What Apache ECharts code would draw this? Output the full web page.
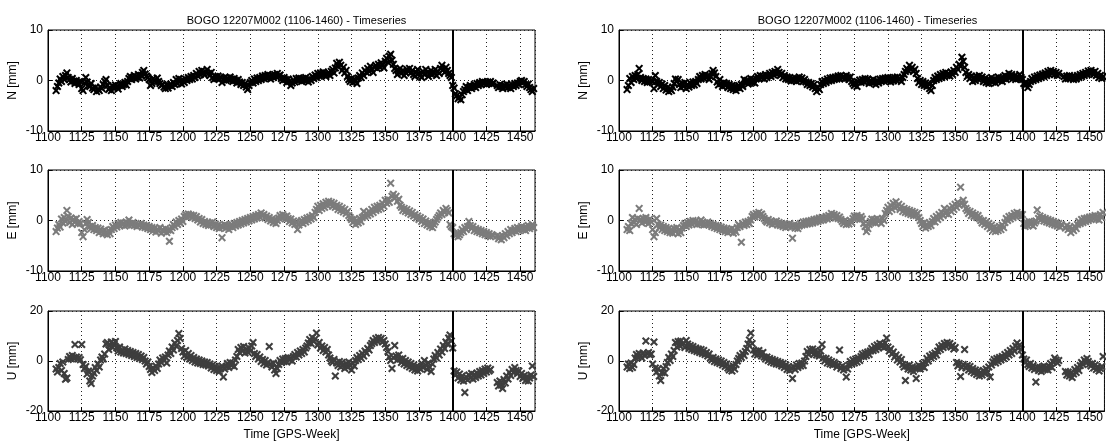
<!DOCTYPE html>
<html>
<head>
<meta charset="utf-8">
<script src="https://cdn.jsdelivr.net/npm/echarts@6/dist/echarts.min.js"></script>
<style>
html,body{margin:0;padding:0;background:#fff;}
#chart{width:1106px;height:448px;}
</style>
</head>
<body>
<div id="chart"></div>
<script>
// ---- DATA (weekly values, GPS weeks 1106..1460, mm) ----
const firstWeek = 1106;
const titleText = "BOGO 12207M002 (1106-1460) - Timeseries";
const xAxisTitle = "Time [GPS-Week]";
const componentNames = ["N [mm]", "E [mm]", "U [mm]"];
const yLimits = [[-10, 10], [-10, 10], [-20, 20]];
const breakWeek = 1400;

const leftN = [
-2.0,-1.2,-0.5,0.3,-0.2,0.8,0.2,1.0,1.5,0.6,
0.2,-0.3,0.4,-0.1,-0.6,0.0,-0.4,-0.8,-0.2,-1.6,
-2.0,-0.5,0.6,-0.3,-1.0,-1.2,-0.6,-1.5,-1.8,-1.4,
-2.2,-1.7,-2.0,-1.3,-1.6,-0.8,-0.2,0.2,-1.0,-1.8,
-1.4,-2.0,-1.1,-1.5,-0.9,-1.3,-1.7,-1.0,-0.6,-1.2,
-0.8,-0.4,-0.9,-0.2,0.4,0.8,0.2,0.6,1.0,0.3,
0.7,1.2,0.5,1.0,1.6,2.0,1.3,0.9,0.6,0.2,
-1.0,-0.6,0.4,0.0,-0.3,0.5,-0.2,-0.6,-1.0,-0.8,
-1.3,-1.6,-0.9,-1.5,-1.0,-0.7,-1.2,-0.4,-0.8,0.2,
-0.6,0.4,-0.2,-0.7,0.1,-0.4,0.3,0.0,0.6,0.2,
0.8,0.3,1.0,0.6,1.4,0.9,1.8,1.2,2.0,1.5,
1.1,1.7,2.2,1.4,1.0,1.6,0.6,0.2,0.8,0.4,
0.9,0.3,0.7,-0.4,0.2,0.6,0.0,0.5,0.1,0.7,
0.3,-0.2,0.4,0.0,-0.5,0.2,-0.3,-0.8,-0.4,-1.0,
-0.6,-1.3,-1.8,-1.0,-0.4,0.0,-0.5,0.3,-0.2,0.5,
0.0,0.6,0.2,0.9,0.4,1.0,0.5,1.2,0.8,0.3,
1.0,0.6,1.2,0.8,1.4,0.9,1.1,0.4,0.0,0.6,
0.2,-0.4,0.3,-0.2,-1.0,-0.5,0.1,-0.3,0.4,0.0,
0.5,0.2,-0.2,0.4,0.0,0.6,0.1,-0.3,0.3,0.0,
0.8,0.4,1.1,0.6,1.4,0.9,1.5,1.0,1.7,1.2,
0.8,1.3,1.6,1.0,1.8,2.2,1.5,2.5,3.4,2.8,
3.6,3.0,2.0,2.6,1.5,2.0,0.8,0.2,-0.2,0.4,
-0.4,0.3,0.0,-0.6,0.5,1.0,0.6,1.5,1.0,2.0,
1.6,2.4,1.8,2.8,2.2,1.6,2.6,3.0,2.4,3.2,
2.6,3.5,3.0,2.5,3.8,4.4,3.6,4.8,5.2,4.0,
3.2,2.4,2.0,1.2,1.8,2.4,1.4,2.0,1.0,1.6,
2.2,1.8,2.4,1.5,2.0,1.2,0.8,1.6,2.2,1.4,
1.0,0.6,1.8,1.2,2.2,1.6,0.8,1.4,2.0,1.2,
1.6,2.2,1.0,1.8,1.4,2.4,3.0,2.2,1.6,2.6,
2.0,1.4,1.0,0.6,-1.0,-1.5,-2.6,-3.0,-3.6,-3.2,
-3.8,-2.8,-2.2,-1.8,-1.2,-2.0,-1.4,-1.0,-1.6,-1.2,
-0.8,-1.4,-0.6,-1.0,-0.4,-0.8,-0.2,-0.6,-0.4,-0.8,
-0.3,-0.6,-0.2,-0.7,-0.5,null,null,-1.0,-1.4,-0.8,
-1.2,-1.6,-1.0,-1.3,-0.7,-1.4,-1.0,-1.6,-0.9,-1.2,
-0.6,-1.0,-0.5,-0.8,-0.2,0.0,-0.4,-0.2,-0.8,-1.2,
-0.7,-1.4,-1.8,-2.2,-1.6
];

const leftE = [
-2.2,-1.5,-0.8,-1.3,0.3,-0.5,0.6,-0.2,2.0,0.8,
-0.4,0.5,-0.8,0.2,-0.3,0.4,-0.6,-0.2,-0.6,-2.4,
-3.2,-1.8,-0.6,0.2,-0.4,-1.2,-1.6,-1.0,-1.8,-1.4,
-2.0,-1.5,-2.4,-1.7,-2.2,-2.6,-1.9,-2.5,-2.8,-2.0,
-2.6,-1.8,-1.2,-1.6,-0.9,-1.3,-0.6,-1.0,-0.4,-0.9,
-0.5,-1.1,-0.3,-0.8,0.1,-0.6,-0.9,-0.4,-1.0,-0.7,
-1.2,-0.8,-1.0,-0.6,-1.3,-0.9,-1.4,-1.0,-1.6,-1.2,
-1.8,-1.4,-2.0,-1.5,-2.3,-1.7,-2.1,-1.4,-2.5,-1.8,
-2.2,-1.6,-2.4,-1.9,-4.1,-2.0,-1.4,-0.8,-1.2,-0.3,
-0.8,0.0,-0.5,0.3,-0.2,0.8,1.2,0.7,1.3,0.9,
1.1,0.6,1.0,0.4,0.8,0.1,0.4,-0.3,0.2,-0.6,
-0.2,-0.8,-0.4,-1.0,-0.5,-0.9,-0.3,-1.2,-0.7,-1.4,
-0.9,-1.6,-1.1,-3.4,-1.3,-0.8,-1.5,-1.0,-1.8,-1.2,
-0.8,-1.4,-0.6,-1.1,-0.4,-0.9,-0.2,-0.7,0.0,-0.5,
0.2,-0.3,0.4,-0.1,0.6,0.1,0.8,0.3,1.0,0.5,
1.2,0.7,1.5,0.9,1.2,0.5,0.9,0.2,0.6,-0.1,
0.3,-0.4,0.1,-0.6,0.0,0.5,1.0,0.6,1.2,0.8,
0.3,0.9,0.4,-0.2,0.3,-0.5,-0.1,-0.8,-0.3,-1.8,
-0.9,-0.4,0.0,-0.6,0.2,-0.3,0.5,0.0,0.7,0.3,
1.0,0.6,1.6,2.2,2.8,2.0,3.0,2.4,3.3,2.6,
3.6,3.0,3.8,3.2,3.6,2.8,3.4,2.6,3.0,2.2,
2.8,2.0,2.5,1.7,2.2,1.4,1.8,1.0,0.6,0.2,
-0.4,0.3,-0.8,0.0,-0.5,0.4,-0.2,0.6,1.8,0.8,
1.4,1.0,1.8,1.3,2.2,1.6,2.6,2.0,2.8,2.2,
3.0,2.4,3.4,2.8,4.0,3.4,4.2,3.6,7.4,4.8,
5.2,4.4,4.8,3.8,4.2,3.0,2.6,2.0,2.4,1.8,
2.2,1.5,1.9,1.2,1.6,0.9,1.2,0.5,0.9,0.2,
0.6,-0.2,0.3,-0.6,-0.1,-0.9,-0.4,-1.2,-0.6,-1.4,
-0.8,-0.3,0.2,0.6,1.0,1.5,1.2,2.0,1.6,2.4,
2.0,1.5,-0.8,-1.2,-1.4,-2.6,-3.0,-2.6,-3.2,-2.8,
-2.4,-1.8,-2.2,-1.4,-1.8,-1.2,-0.2,-1.0,-1.6,-1.2,
-2.0,-1.6,-2.2,-1.8,-2.4,-2.0,-2.6,-2.2,-2.8,-2.4,
-3.0,-2.6,-3.2,-2.8,-3.0,null,null,-3.0,-3.6,-3.2,
-3.8,-3.0,-3.4,-2.6,-3.0,-2.2,-2.6,-1.8,-2.4,-2.0,
-1.6,-2.2,-1.4,-2.0,-1.6,-1.2,-1.8,-1.4,-2.0,-1.5,
-1.0,-1.6,-1.2,-0.8,-1.4
];

const leftU = [
-3.2,-4.4,-2.6,-1.0,-3.8,-0.4,-5.0,-7.3,-6.8,0.6,
1.8,0.9,2.2,1.2,6.6,1.6,0.8,1.4,0.5,6.6,
-1.4,-3.0,-2.2,-5.2,-4.0,-8.0,-9.0,-6.0,-4.8,-2.6,
-3.8,-1.2,-2.4,0.4,1.6,0.8,2.8,6.8,7.4,4.6,
6.2,7.6,5.4,6.8,7.8,5.2,4.0,5.6,3.6,4.4,
3.2,4.8,3.0,4.2,2.6,3.8,2.2,3.4,1.8,3.0,
1.4,2.6,1.0,2.0,0.6,1.4,0.0,-1.2,-0.4,-2.2,
-3.4,-4.6,-2.8,-3.8,-2.0,-3.0,-1.2,0.4,-0.6,1.2,
0.2,1.6,-0.8,2.4,4.0,3.0,5.6,4.4,7.2,6.0,
8.2,11.0,9.0,5.0,3.6,2.0,4.2,1.4,3.0,0.8,
2.2,0.2,1.4,-0.4,0.8,-0.8,0.4,-1.0,0.0,-1.4,
-0.4,-1.6,-0.6,-2.0,-1.2,-2.8,-1.6,-3.4,-2.2,-3.8,
-2.8,-4.2,-3.0,-2.0,-6.4,-3.2,-2.2,-1.0,-2.6,-0.6,
-1.8,-0.8,-2.2,0.4,1.8,4.6,3.4,5.4,4.0,5.8,
3.2,4.8,3.6,5.2,4.0,6.0,7.4,3.0,1.8,2.6,
0.8,1.6,-0.2,0.6,-1.0,0.2,-1.6,-0.6,5.8,-1.2,
-2.4,-0.8,-3.6,-5.0,-3.0,-1.4,0.2,-0.6,0.8,-0.2,
1.0,-0.4,1.4,0.4,1.2,0.0,1.8,2.6,1.6,3.4,
2.4,4.0,3.0,4.6,3.6,5.2,6.0,7.2,8.6,7.0,
9.4,7.8,8.8,11.2,6.4,7.4,5.2,6.0,4.2,5.4,
3.6,4.6,2.4,1.2,0.0,-0.6,0.6,-6.0,-0.8,-1.8,
-0.2,-2.4,-0.6,-1.6,-3.0,-1.0,-2.4,-0.4,-1.8,-3.6,
-0.8,-2.0,0.2,1.4,0.6,2.2,1.2,3.0,2.0,4.0,
3.2,5.0,4.4,6.2,7.0,8.2,7.4,9.0,8.0,9.4,
8.4,9.0,7.6,8.2,6.8,5.4,3.8,1.6,0.2,-3.0,
1.4,6.2,2.0,0.4,2.4,0.8,-0.6,1.0,-1.2,0.2,
-1.8,-0.4,-2.4,-1.0,-3.0,-1.6,-3.6,-2.2,-4.0,-2.6,
-3.2,-1.0,-2.6,0.2,-1.6,-3.4,-0.8,-2.4,-4.2,-1.2,
0.8,2.2,1.2,3.4,2.4,4.8,3.6,6.2,5.0,7.6,
6.8,9.2,10.4,8.0,5.2,-4.0,-5.6,-4.4,-6.8,-5.2,
-7.6,-6.0,-8.0,-12.6,-6.4,-7.6,-5.6,-6.8,-5.0,-7.2,
-5.4,-6.6,-4.8,-6.0,-4.2,-5.6,-3.8,-5.0,-3.2,-4.4,
-2.8,-4.0,-3.4,null,null,null,null,-8.6,-10.0,-8.0,
-9.6,-11.0,-7.4,-8.8,-6.0,-7.2,-4.6,-5.8,-3.4,-4.6,
-2.6,-3.8,-5.0,-4.0,-6.2,-5.0,-7.0,-5.8,-7.8,-6.4,
-8.0,-6.8,-5.6,-2.0,-6.2
];

const rightN = [
-1.8,-1.0,0.4,-0.4,0.8,0.2,1.0,0.4,1.2,2.4,
0.6,0.0,0.4,-0.2,0.3,-0.4,0.2,-0.3,0.1,-0.2,
-1.6,1.0,-0.2,-0.8,-0.4,-1.2,-0.7,-1.6,-1.0,-1.9,
-1.4,-2.2,-1.6,-2.0,-1.3,-0.6,0.3,-0.2,0.2,-0.8,
-1.4,-0.6,-1.2,-0.4,-1.6,-0.8,-1.3,-0.5,-1.0,-0.3,
-0.9,-0.2,-0.6,0.2,0.8,0.3,1.0,0.5,1.2,0.6,
0.9,0.2,0.8,1.4,2.0,1.5,0.8,-0.3,-0.9,0.2,
-0.6,-1.2,-0.4,-1.0,-0.6,-1.4,-0.8,-1.6,-1.0,-1.8,
-1.2,-2.0,-1.4,-1.0,-1.6,-0.8,-1.2,0.2,-0.4,0.0,
-0.7,-0.2,0.4,-0.4,0.2,-0.5,0.3,0.8,0.4,1.0,
0.5,0.9,0.3,1.2,0.6,1.0,1.4,0.8,1.6,1.1,
1.8,1.3,2.2,1.6,1.0,1.4,0.6,1.0,0.3,0.7,
0.2,0.6,-0.1,0.4,0.0,0.5,-0.2,0.3,0.7,0.1,
0.5,-0.2,0.2,-0.3,-0.8,-0.4,-1.0,-0.6,-1.3,-0.8,
-1.6,-2.2,-1.4,-1.8,-0.8,-0.2,-0.6,0.0,-0.4,0.3,
-0.1,0.5,0.0,0.6,0.2,0.7,0.3,0.9,0.4,1.0,
0.5,0.8,0.3,1.0,0.6,0.2,0.7,-0.2,-0.6,-1.0,
-0.5,-1.2,-0.3,0.1,-0.4,0.2,-0.2,0.4,-0.1,0.3,
-0.6,0.0,-0.4,0.2,-0.3,-0.8,0.0,-0.5,0.3,-0.2,
0.4,-0.1,0.5,0.0,0.6,0.2,-0.3,0.4,-0.1,0.6,
0.1,0.7,0.2,0.4,-0.2,0.6,1.2,1.8,2.4,2.0,
3.0,2.2,2.6,1.8,2.2,1.4,0.4,-0.4,0.0,-0.8,
-0.2,-1.0,-0.5,-1.2,-0.6,-1.6,-2.0,-1.0,0.0,0.6,
0.2,0.9,0.4,1.2,0.6,1.4,0.8,1.6,1.0,1.4,
0.9,1.7,1.2,2.0,1.6,2.6,2.2,3.2,2.8,4.6,
3.8,2.6,1.6,0.8,1.2,0.4,0.9,-0.2,0.6,0.0,
0.8,0.3,1.0,0.4,0.7,-0.2,0.4,-0.4,0.2,-0.6,
0.0,0.6,-0.3,0.3,-0.5,0.1,0.7,0.0,0.5,-0.2,
0.4,1.0,0.2,0.8,1.4,0.6,1.2,0.4,0.9,0.2,
0.8,0.4,1.2,0.6,0.2,-0.6,-1.0,-0.4,-1.4,-0.8,
-0.2,0.4,0.0,0.7,0.2,0.9,0.4,1.1,0.6,1.3,
0.8,1.5,1.0,1.8,1.2,2.0,1.4,1.8,1.2,1.6,
1.0,1.4,null,null,null,0.8,0.3,0.9,0.4,1.0,
0.5,0.8,0.2,0.7,0.3,1.0,0.6,1.2,0.8,1.4,
1.0,1.6,1.2,1.9,1.4,2.0,1.6,1.2,1.8,1.0,
1.4,0.6,1.0,0.4,0.8
];

const rightE = [
-1.8,-1.2,-2.0,-0.6,0.6,-0.4,0.2,-0.8,0.4,2.4,
0.2,-0.5,0.4,-0.2,0.6,0.0,-0.6,0.3,-0.3,-1.8,
-3.2,-2.4,0.4,-0.8,-1.4,-0.9,-1.8,-1.2,-2.0,-1.4,
-2.2,-1.6,-2.4,-1.8,-2.5,-1.6,-2.2,-1.4,-2.6,-1.8,
-2.4,-1.5,-1.0,-0.6,-1.2,-0.4,-0.9,-0.2,-0.7,0.0,
-0.5,-0.1,-0.8,-0.3,-0.7,0.1,-0.4,-0.9,-0.5,-0.8,
-0.3,-0.9,-0.6,-1.2,-0.8,-1.4,-1.0,-1.6,-1.1,-1.8,
-1.3,-2.0,-1.5,-2.2,-1.7,-2.4,-1.8,-2.2,-1.6,-2.5,
-1.9,-2.3,-1.4,-0.8,-1.2,-4.3,-0.6,-1.0,-0.3,-0.8,
-0.2,-0.6,0.1,0.8,1.2,0.7,1.4,1.0,1.6,1.1,
1.3,0.8,0.4,0.0,-0.3,0.2,-0.5,-0.1,-0.8,-0.3,
-0.6,-0.1,-0.9,-0.4,-1.0,-0.6,-1.2,-0.7,-1.4,-0.8,
-1.2,-0.6,-1.3,-3.5,-0.9,-1.5,-1.0,-1.6,-1.1,-0.6,
-0.9,-0.3,-0.8,-0.2,-0.7,-0.1,-0.6,0.0,-0.5,0.2,
-0.3,0.3,-0.2,0.5,0.0,0.6,0.1,0.4,0.8,0.3,
1.0,0.6,1.4,0.8,1.2,0.5,1.0,0.4,0.7,0.2,
-0.2,-0.6,0.0,-0.8,-0.3,-0.7,0.0,-0.4,0.4,0.9,
0.5,1.0,0.6,0.2,0.8,0.3,-0.6,-1.2,-2.2,-1.6,
-0.8,-0.2,0.3,-0.4,0.2,-0.5,0.4,-0.2,0.1,-0.6,
0.4,0.0,1.4,2.0,2.6,1.8,3.0,2.2,3.4,2.6,
3.7,2.8,3.2,2.2,2.8,1.8,2.4,1.6,2.2,1.4,
2.0,1.2,1.8,1.0,1.6,1.0,1.4,0.6,0.0,-0.6,
-1.2,-0.4,-1.5,-0.8,-1.2,-0.5,-1.0,-0.2,0.4,-0.3,
0.8,0.2,1.2,0.6,1.6,1.0,2.4,1.4,2.0,1.2,
2.4,1.8,2.8,2.2,3.2,2.6,3.6,3.0,6.6,3.4,
4.0,3.2,2.4,2.0,1.4,1.8,1.0,1.5,0.8,1.2,
0.6,1.0,0.4,0.0,-0.5,0.0,-0.8,-0.3,-1.2,-0.6,
-1.6,-0.9,-2.0,-1.3,-2.2,-1.5,-2.0,-1.2,-1.8,-0.9,
-1.4,-0.4,0.4,0.0,0.8,0.3,1.0,0.6,1.4,0.9,
1.6,1.0,1.3,0.8,1.2,-0.6,-1.2,-0.4,-1.0,-0.2,
-0.8,-0.3,-1.1,-0.5,-0.1,2.1,0.4,0.9,0.2,0.6,
-0.1,0.4,-0.3,0.2,-0.5,0.0,-0.7,-0.2,-0.9,-0.4,
-1.1,-0.6,-1.3,-0.8,null,null,-1.5,-1.0,-1.8,-1.3,
-2.4,-1.6,-2.0,-1.2,-1.6,-0.8,-0.2,-0.6,0.2,-0.4,
0.4,-0.2,0.5,0.0,0.7,0.2,0.8,0.4,1.0,0.3,
0.9,0.1,1.2,0.6,1.6
];

const rightU = [
-2.4,-1.2,-3.0,-0.8,-2.6,-1.4,1.2,2.6,1.4,3.0,
2.0,1.2,3.2,2.2,8.0,2.8,3.4,2.4,2.8,-1.2,
7.6,-2.8,-4.4,-3.2,-6.0,-7.8,-4.6,-3.0,-4.8,-2.2,
-0.6,1.4,0.2,2.8,1.8,4.2,7.4,5.6,7.8,6.2,
8.0,6.6,7.2,5.4,8.2,6.8,5.0,6.2,4.6,5.8,
4.2,5.2,3.8,4.8,3.4,4.6,3.0,4.2,2.6,3.4,
2.0,2.8,1.2,0.4,1.4,-0.2,0.8,-0.6,0.4,-1.0,
0.0,-1.6,-0.6,-2.2,-1.2,-2.8,-3.6,-2.4,-4.0,-2.0,
-3.2,-1.4,0.0,1.0,2.2,1.4,3.0,2.2,3.8,5.0,
6.8,8.4,11.2,7.0,4.4,2.8,4.0,2.4,4.2,3.0,
2.0,3.4,1.6,0.8,1.6,0.2,1.0,-0.4,0.6,-0.8,
0.2,-1.2,-0.2,-1.4,-0.6,-2.0,-1.0,-2.6,-1.6,-3.4,
-2.2,-3.8,-2.8,-7.0,-2.4,-3.4,-1.6,-2.6,-1.0,-2.0,
-0.8,-1.8,0.0,1.8,3.8,2.6,4.6,3.4,4.8,2.8,
4.2,2.4,3.6,2.0,4.0,6.6,1.2,0.0,1.0,-0.8,
0.4,-1.2,-0.2,-1.6,-0.6,-1.2,-2.4,-1.6,4.4,-3.0,
-2.0,-3.6,-2.6,-6.4,-3.2,-1.6,-0.2,-1.2,0.4,-0.8,
0.8,-0.4,1.2,0.2,1.8,2.8,1.8,3.2,2.2,3.6,
2.6,4.0,5.0,4.2,5.8,4.6,6.4,5.2,7.0,5.8,
6.6,5.4,7.2,9.2,5.6,4.0,4.8,2.8,3.6,1.6,
2.4,0.4,1.4,-0.4,0.6,-1.4,-2.4,-7.8,-2.0,-3.2,
-1.6,-3.6,-2.4,-4.2,-2.8,-7.0,-3.0,-1.8,-3.2,-2.2,
-1.0,-2.6,-0.6,1.0,0.0,2.0,1.2,2.6,1.8,3.2,
2.4,4.0,5.6,4.6,6.2,5.4,7.0,6.0,7.4,6.4,
7.0,5.6,6.2,4.8,5.4,-0.6,-2.0,-1.0,-6.2,-2.6,
-1.4,4.6,-2.8,-1.8,-3.6,-2.2,-4.2,-3.0,-4.8,-3.6,
-5.4,-4.0,-6.0,-4.6,-5.6,-3.8,-5.0,-3.2,-4.4,-2.4,
-6.4,-1.6,-0.4,0.6,-0.8,1.0,-0.2,1.4,0.4,1.8,
1.0,2.6,1.6,3.4,2.4,4.2,3.0,5.0,4.0,6.0,
7.2,5.2,6.4,4.6,2.4,0.8,-0.6,0.4,-1.4,-2.2,
-1.0,-2.8,-1.8,-3.4,-8.4,-2.4,-3.8,-2.6,-4.2,-3.0,
-2.0,-3.4,-2.4,-3.6,-2.2,-1.0,-2.6,-0.4,1.2,0.4,
-0.8,0.2,null,null,null,null,-4.2,-5.6,-4.4,-6.0,
-4.8,-6.6,-5.2,-3.4,-4.6,-2.6,-3.8,-1.8,-0.6,-1.4,
0.4,-0.4,1.0,-0.2,-1.2,-2.0,-1.0,-2.8,-1.6,-3.4,
-2.4,-4.0,-3.0,-2.2,1.8
];

const panelSeries = [
  [leftN, leftE, leftU],
  [rightN, rightE, rightU]
];
const seriesColors = ["#000000", "#7c7c7c", "#3e3e3e"];

// ---- LAYOUT ----
const colLeft = [48, 619];
const colWidth = [487, 488];
const rowTop = [30, 170, 311];
const rowHeight = [101, 101, 100];
const FONT = "Liberation Sans";
const xSymbol = "path://M0,1.8L1.8,0L5,3.2L8.2,0L10,1.8L6.8,5L10,8.2L8.2,10L5,6.8L1.8,10L0,8.2L3.2,5Z";

function toPairs(arr) {
  const out = [];
  arr.forEach((v, i) => { if (v !== null) out.push([firstWeek + i, v]); });
  return out;
}

const grids = [], xAxes = [], yAxes = [], series = [], titles = [];
let idx = 0;
for (let c = 0; c < 2; c++) {
  titles.push({
    text: titleText,
    left: colLeft[c] + colWidth[c] / 2 - (c === 1 ? 0.5 : 0),
    top: 10,
    textAlign: "center",
    textStyle: { fontFamily: FONT, fontSize: 11, fontWeight: "normal", color: "#000" }
  });
  for (let r = 0; r < 3; r++) {
    grids.push({
      left: colLeft[c], top: rowTop[r], width: colWidth[c], height: rowHeight[r],
      show: true, borderColor: "#000", borderWidth: 1, backgroundColor: "#fff"
    });
    xAxes.push({
      type: "value", gridIndex: idx, min: 1100, max: 1461, interval: 25,
      axisLine: { show: true, onZero: false, lineStyle: { color: "#000", width: 1 } },
      axisTick: { show: true, inside: true, length: 4, lineStyle: { color: "#000" } },
      axisLabel: {
        color: "#000", fontFamily: FONT, fontSize: 12, margin: 1, showMaxLabel: false,
        formatter: v => String(v)
      },
      splitLine: { show: true, lineStyle: { color: "#222", type: [1, 3], width: 1 } },
      name: r === 2 ? xAxisTitle : "",
      nameLocation: "middle", nameGap: 18,
      nameTextStyle: { color: "#000", fontFamily: FONT, fontSize: 12 }
    });
    yAxes.push({
      type: "value", gridIndex: idx, min: yLimits[r][0], max: yLimits[r][1],
      interval: yLimits[r][1],
      axisLine: { show: true, onZero: false, lineStyle: { color: "#000", width: 1 } },
      axisTick: { show: true, inside: true, length: 4, lineStyle: { color: "#000" } },
      axisLabel: { color: "#000", fontFamily: FONT, fontSize: 12, margin: 5, formatter: v => String(v) },
      splitLine: { show: true, lineStyle: { color: "#222", type: [1, 3], width: 1 } },
      name: componentNames[r], nameLocation: "middle", nameGap: 29, nameRotate: 90,
      nameTextStyle: { color: "#000", fontFamily: FONT, fontSize: 12 }
    });
    series.push({
      type: "scatter", xAxisIndex: idx, yAxisIndex: idx,
      data: toPairs(panelSeries[c][r]),
      symbol: xSymbol, symbolSize: 8,
      itemStyle: { color: seriesColors[r], opacity: 1 },
      silent: true,
      markLine: {
        silent: true, symbol: ["none", "none"], label: { show: false },
        lineStyle: { color: "#000", width: 2, type: "solid" },
        data: [{ xAxis: breakWeek }]
      }
    });
    idx++;
  }
}

const chart = echarts.init(document.getElementById("chart"), null, { renderer: "canvas" });
chart.setOption({
  animation: false,
  backgroundColor: "#fff",
  title: titles,
  grid: grids,
  xAxis: xAxes,
  yAxis: yAxes,
  series: series
});
</script>
</body>
</html>
